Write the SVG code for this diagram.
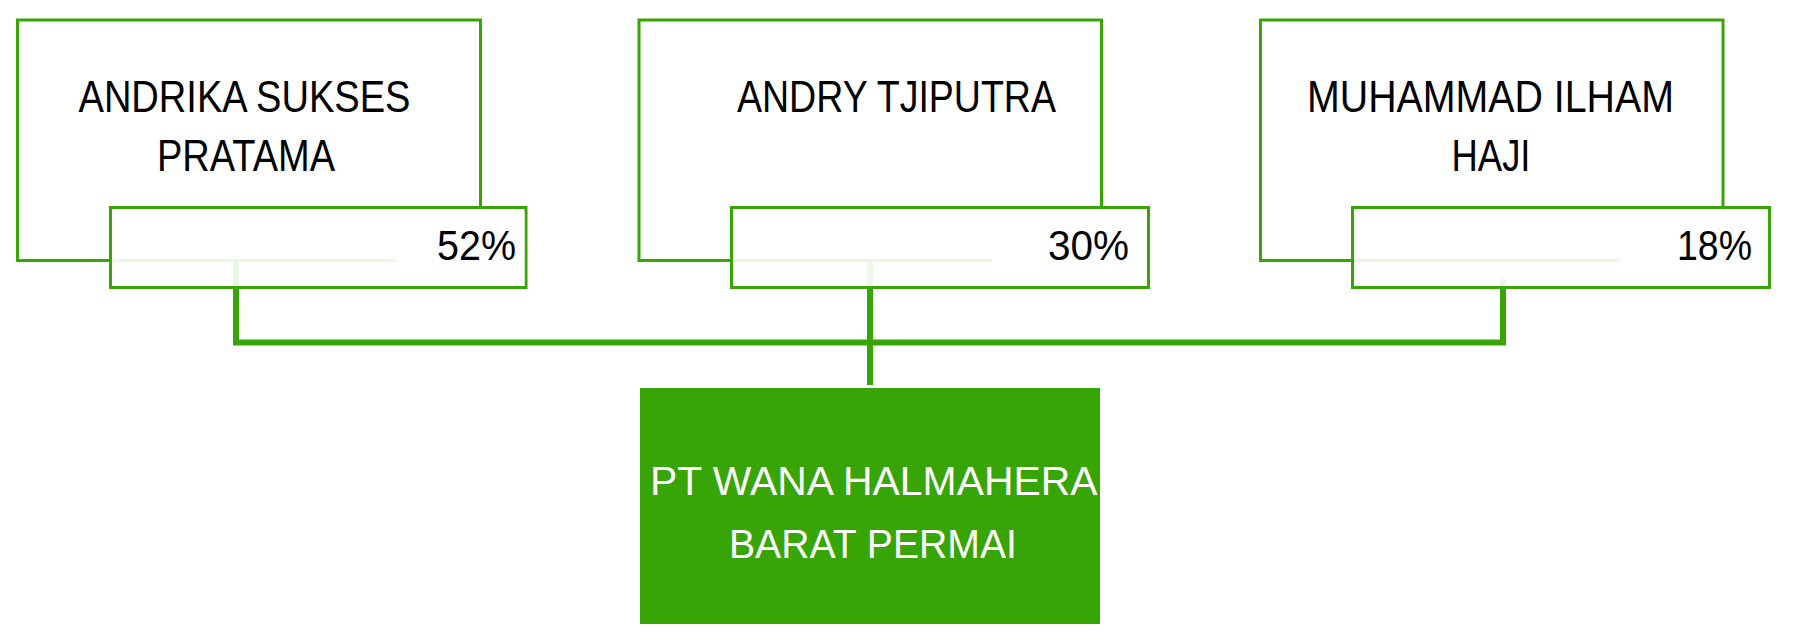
<svg xmlns="http://www.w3.org/2000/svg" width="1793" height="644" viewBox="0 0 1793 644">
<style>
.owner{fill:#ffffff;stroke:#36a505;stroke-width:3}
.pct{fill:#ffffff;fill-opacity:0.9;stroke:#36a505;stroke-width:3}
.tbg{fill:#ffffff}
.name{font-family:"Liberation Sans",Arial,sans-serif;font-size:44px;fill:#000000}
.num{font-family:"Liberation Sans",Arial,sans-serif;font-size:42px;fill:#000000}
.target{fill:#36a505}
.ttext{font-family:"Liberation Sans",Arial,sans-serif;font-size:41px;fill:#ffffff}
.conn{fill:none;stroke:#36a505;stroke-width:6}
</style>
<rect width="1793" height="644" fill="#ffffff"/>
<g id="owner-andrika">
<rect class="owner" x="17.5" y="20" width="463" height="240.5"/>
<text class="name" x="78.5" y="111.7" textLength="332" lengthAdjust="spacingAndGlyphs">ANDRIKA SUKSES</text>
<text class="name" x="157" y="170.7" textLength="178" lengthAdjust="spacingAndGlyphs">PRATAMA</text>
</g>
<g id="owner-andry">
<rect class="owner" x="639" y="20" width="462.5" height="240.5"/>
<text class="name" x="737" y="111.7" textLength="319" lengthAdjust="spacingAndGlyphs">ANDRY TJIPUTRA</text>
</g>
<g id="owner-muhammad">
<rect class="owner" x="1260.5" y="20" width="462.5" height="240.5"/>
<text class="name" x="1307" y="111.7" textLength="367" lengthAdjust="spacingAndGlyphs">MUHAMMAD ILHAM</text>
<text class="name" x="1451.5" y="170.7" textLength="79" lengthAdjust="spacingAndGlyphs">HAJI</text>
</g>
<g id="connectors">
<path class="conn" d="M236,260 V342.5 H1503 V279"/>
<path class="conn" d="M870,260 V385"/>
</g>
<g id="share-52">
<rect class="pct" x="110.5" y="207.5" width="415.5" height="80"/>
<rect class="tbg" x="397" y="212" width="127.5" height="74"/>
<text class="num" x="437" y="260" textLength="79" lengthAdjust="spacingAndGlyphs">52%</text>
</g>
<g id="share-30">
<rect class="pct" x="731.5" y="207.5" width="417" height="80"/>
<rect class="tbg" x="992" y="212" width="155" height="74"/>
<text class="num" x="1048" y="260" textLength="81" lengthAdjust="spacingAndGlyphs">30%</text>
</g>
<g id="share-18">
<rect class="pct" x="1352.5" y="207.5" width="417" height="80"/>
<rect class="tbg" x="1620" y="212" width="148" height="74"/>
<text class="num" x="1677" y="260" textLength="75" lengthAdjust="spacingAndGlyphs">18%</text>
</g>
<g id="company-wana">
<rect class="target" x="640" y="388" width="460" height="236"/>
<text class="ttext" x="650" y="495" textLength="447.5" lengthAdjust="spacingAndGlyphs">PT WANA HALMAHERA</text>
<text class="ttext" x="729" y="558.3" textLength="288" lengthAdjust="spacingAndGlyphs">BARAT PERMAI</text>
</g>
</svg>
